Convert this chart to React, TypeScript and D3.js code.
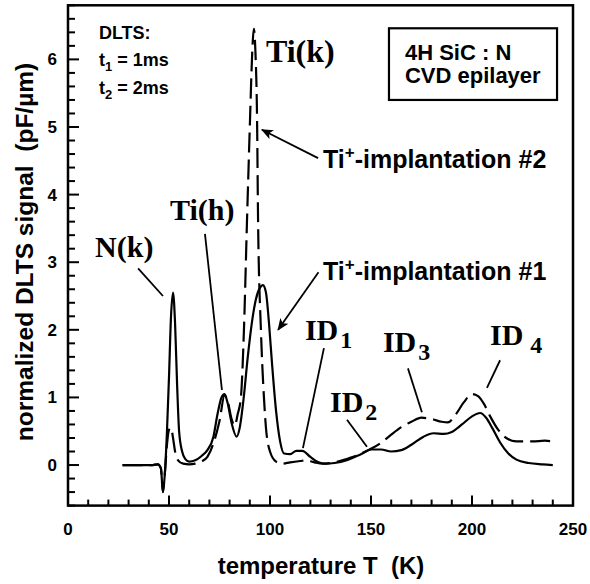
import { useEffect, useRef } from "react";
import * as d3 from "d3";

// Ti+-implantation #1 (solid)
const solidT = [27, 35, 42, 44.5, 46, 47, 48, 49, 50, 51, 52, 53, 54, 55, 56.5, 58, 60, 63, 66, 69, 72, 74, 76, 77.5, 79, 81, 83.5, 85, 87, 89, 91, 93, 95, 96.5, 98, 99.5, 101, 103, 105, 107, 110, 113, 116, 120, 124, 127, 132, 138, 145, 150, 155, 160, 165, 170, 176, 181, 186, 190, 195, 200, 204, 207, 210, 214, 218, 222, 228, 235, 240];
const solidV = [0, 0, 0, 0.01, -0.05, -0.4, -0.1, 0.5, 1.3, 2.2, 2.55, 2.1, 1.2, 0.5, 0.2, 0.09, 0.05, 0.07, 0.13, 0.22, 0.42, 0.75, 1.0, 1.05, 0.92, 0.62, 0.42, 0.55, 1.0, 1.6, 2.1, 2.45, 2.62, 2.66, 2.55, 2.1, 1.5, 0.8, 0.35, 0.17, 0.16, 0.21, 0.21, 0.12, 0.04, 0.02, 0.03, 0.07, 0.16, 0.23, 0.23, 0.2, 0.22, 0.3, 0.42, 0.47, 0.46, 0.49, 0.6, 0.72, 0.77, 0.7, 0.55, 0.33, 0.17, 0.08, 0.03, 0.01, 0.0];

// Ti+-implantation #2 (dashed)
const dashedT = [27, 35, 42, 44.5, 46, 47, 48, 49, 50, 51, 52, 53, 54.5, 57, 60, 63, 66, 69, 72, 75, 77.5, 79, 81, 82.5, 84, 85.6, 87.1, 88.6, 90.1, 91.2, 92, 92.8, 93.6, 94.1, 95.5, 97, 98, 100, 103, 106, 110, 115, 118, 122, 126, 132, 140, 150, 155, 160, 165, 170, 175, 180, 185, 188, 192, 196, 200, 203, 206, 209, 213, 217, 222, 230, 236, 240];
const dashedV = [0, 0, 0, 0.01, -0.05, -0.4, -0.1, 0.3, 0.52, 0.55, 0.4, 0.2, 0.07, 0.02, 0.01, 0.02, 0.05, 0.12, 0.32, 0.65, 1.03, 0.95, 0.68, 0.58, 0.75, 1.0, 2.0, 3.6, 5.1, 6.1, 6.45, 6.1, 5.1, 3.6, 2.0, 1.0, 0.55, 0.2, 0.05, 0.02, 0.04, 0.06, 0.07, 0.04, 0.02, 0.04, 0.11, 0.24, 0.33, 0.45, 0.56, 0.64, 0.7, 0.68, 0.64, 0.63, 0.75, 0.93, 1.05, 1.02, 0.9, 0.72, 0.52, 0.4, 0.35, 0.35, 0.36, 0.35];

const xTicks = [0, 50, 100, 150, 200, 250];
const yTicks = [0, 1, 2, 3, 4, 5, 6];

const SANS = "'Liberation Sans', Arial, Helvetica, sans-serif";
const SERIF = "'Liberation Serif', 'Times New Roman', serif";

const App = () => {
  const ref = useRef<SVGSVGElement | null>(null);

  useEffect(() => {
    if (!ref.current) return;
    const svg = d3.select(ref.current);
    svg.selectAll("*").remove();

    const x = d3.scaleLinear().domain([0, 250]).range([68, 573]);
    const y = d3.scaleLinear().domain([-0.6, 6.8]).range([505.6, 5.3]);

    const line = d3
      .line<[number, number]>()
      .x((d) => x(d[0]))
      .y((d) => y(d[1]))
      .curve(d3.curveMonotoneX);

    // frame
    svg.append("rect")
      .attr("x", x(0)).attr("y", y(6.8))
      .attr("width", x(250) - x(0)).attr("height", y(-0.6) - y(6.8))
      .attr("fill", "none").attr("stroke", "#000").attr("stroke-width", 2.5);

    // y ticks (inward)
    const yMinor = d3.range(-0.6, 6.81, 0.2).map((v) => Math.round(v * 10) / 10);
    svg.append("g").selectAll("line").data(yMinor).enter().append("line")
      .attr("x1", x(0)).attr("x2", (d) => x(0) + (yTicks.includes(d) ? 11 : 7))
      .attr("y1", (d) => y(d)).attr("y2", (d) => y(d))
      .attr("stroke", "#000").attr("stroke-width", 2);
    svg.append("g").selectAll("text").data(yTicks).enter().append("text")
      .attr("x", 57).attr("y", (d) => y(d) + 6)
      .attr("text-anchor", "end")
      .style("font-family", SANS).style("font-weight", "700").style("font-size", "17px")
      .text((d) => d);

    // x ticks (inward)
    const xMinor = d3.range(0, 251, 10);
    svg.append("g").selectAll("line").data(xMinor).enter().append("line")
      .attr("x1", (d) => x(d)).attr("x2", (d) => x(d))
      .attr("y1", y(-0.6)).attr("y2", (d) => y(-0.6) - (xTicks.includes(d) ? 10 : 6))
      .attr("stroke", "#000").attr("stroke-width", 2);
    svg.append("g").selectAll("text").data(xTicks).enter().append("text")
      .attr("x", (d) => x(d)).attr("y", 535)
      .attr("text-anchor", "middle")
      .style("font-family", SANS).style("font-weight", "700").style("font-size", "17px")
      .text((d) => d);

    // axis titles
    svg.append("text")
      .attr("x", 321).attr("y", 574)
      .attr("text-anchor", "middle")
      .style("font-family", SANS).style("font-weight", "700").style("font-size", "24px")
      .attr("xml:space", "preserve")
      .text("temperature T  (K)");
    svg.append("text")
      .attr("transform", "translate(33,252) rotate(-90)")
      .attr("text-anchor", "middle")
      .style("font-family", SANS).style("font-weight", "700").style("font-size", "24.5px")
      .attr("xml:space", "preserve")
      .text("normalized DLTS signal  (pF/µm)");

    // curves
    const solid = solidT.map((t, i) => [t, solidV[i]] as [number, number]);
    const dashed = dashedT.map((t, i) => [t, dashedV[i]] as [number, number]);
    svg.append("path").attr("d", line(solid))
      .attr("fill", "none").attr("stroke", "#000").attr("stroke-width", 2.2)
      .attr("stroke-linejoin", "round");
    svg.append("path").attr("d", line(dashed))
      .attr("fill", "none").attr("stroke", "#000").attr("stroke-width", 2.2)
      .attr("stroke-dasharray", "20,7");

    // arrow marker
    svg.append("defs").append("marker")
      .attr("id", "arr").attr("viewBox", "0 0 12 10")
      .attr("refX", 11).attr("refY", 5)
      .attr("markerWidth", 12).attr("markerHeight", 10)
      .attr("markerUnits", "userSpaceOnUse")
      .attr("orient", "auto")
      .append("path").attr("d", "M0,0 L12,5 L0,10 L3,5 Z").attr("fill", "#000");

    const pointer = (a: [number, number], b: [number, number], arrow = false) => {
      const l = svg.append("line")
        .attr("x1", x(a[0])).attr("y1", y(a[1]))
        .attr("x2", x(b[0])).attr("y2", y(b[1]))
        .attr("stroke", "#000").attr("stroke-width", 1.8);
      if (arrow) l.attr("marker-end", "url(#arr)");
    };

    pointer([34.7, 2.91], [47.0, 2.5]);
    pointer([67.8, 3.42], [76.2, 1.11]);
    pointer([123.8, 4.54], [96.0, 4.96], true);
    pointer([124.0, 2.85], [104.0, 2.0], true);
    pointer([126.7, 1.73], [116.3, 0.25]);
    pointer([138.1, 0.67], [148.0, 0.27]);
    pointer([168.3, 1.43], [175.2, 0.78]);
    pointer([213.9, 1.55], [207.4, 1.14]);

    // serif peak labels
    const serif = (t: number, v: number, txt: string, size: number, sub?: string, gap = 2) => {
      const el = svg.append("text")
        .attr("x", x(t)).attr("y", y(v))
        .style("font-family", SERIF).style("font-weight", "700").style("font-size", size + "px");
      el.append("tspan").text(txt);
      if (sub) el.append("tspan").attr("dx", gap).attr("dy", 8).style("font-size", "24px").text(sub);
    };
    serif(98.0, 5.96, "Ti(k)", 32);
    serif(50.5, 3.62, "Ti(h)", 30);
    serif(13.4, 3.08, "N(k)", 30);
    serif(117.3, 1.85, "ID", 30, "1");
    serif(129.7, 0.78, "ID", 30, "2");
    serif(155.9, 1.67, "ID", 30, "3");
    serif(208.9, 1.78, "ID", 30, "4", 7);

    // implantation labels
    const impl = (t: number, v: number, n: string) => {
      const el = svg.append("text")
        .attr("x", x(t)).attr("y", y(v))
        .style("font-family", SANS).style("font-weight", "700").style("font-size", "25px");
      el.append("tspan").text("Ti");
      el.append("tspan").attr("dy", -10).style("font-size", "17px").text("+");
      el.append("tspan").attr("dy", 10).text(`-implantation ${n}`);
    };
    impl(126.2, 4.39, "#2");
    impl(126.2, 2.74, "#1");

    // DLTS parameters
    const small = (t: number, v: number, a: string, sub?: string, b?: string) => {
      const el = svg.append("text")
        .attr("x", x(t)).attr("y", y(v))
        .attr("xml:space", "preserve")
        .style("font-family", SANS).style("font-weight", "700").style("font-size", "18px");
      el.append("tspan").text(a);
      if (sub) {
        el.append("tspan").attr("dy", 5).style("font-size", "13px").text(sub);
        el.append("tspan").attr("dy", -5).text(b ?? "");
      }
    };
    small(15.3, 6.3, "DLTS:");
    small(15.3, 5.9, "t", "1", " = 1ms");
    small(15.3, 5.49, "t", "2", " = 2ms");

    // sample box
    svg.append("rect")
      .attr("x", x(158.9)).attr("y", y(6.46))
      .attr("width", x(242.1) - x(158.9)).attr("height", y(5.4) - y(6.46))
      .attr("fill", "#fff").attr("stroke", "#000").attr("stroke-width", 2.2);
    svg.append("text")
      .attr("x", x(166.8)).attr("y", y(5.99))
      .attr("xml:space", "preserve")
      .style("font-family", SANS).style("font-weight", "700").style("font-size", "22px")
      .text("4H SiC : N");
    svg.append("text")
      .attr("x", x(166.8)).attr("y", y(5.65))
      .style("font-family", SANS).style("font-weight", "700").style("font-size", "22px")
      .text("CVD epilayer");
  }, []);

  return (
    <svg
      ref={ref}
      width={590}
      height={584}
      style={{ position: "absolute", left: 0, top: 0, background: "#fff" }}
    />
  );
};

export default App;
